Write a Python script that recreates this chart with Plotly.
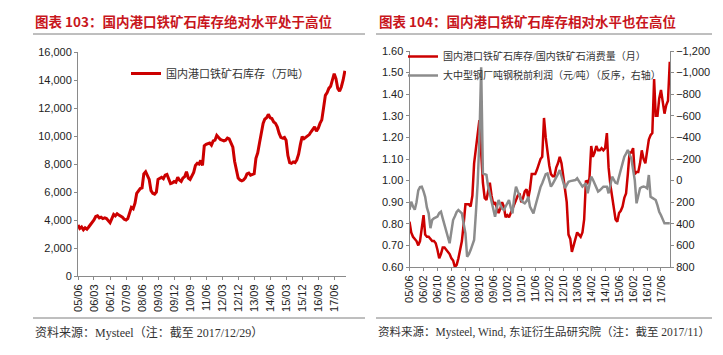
import pandas as pd
import plotly.graph_objects as go

# ---------------- data ----------------
# Left: port iron-ore inventory (10k tonnes), monthly from 2005-06 to 2017-12
stock = [3640, 3400, 3500, 3300, 3450, 3350, 3500, 3650, 3800, 4000,
         4250, 4300, 4150, 4200, 4100, 4150, 4100, 3950, 3800, 4100,
         4400, 4300, 4450, 4350, 4300, 4200, 4050, 4000, 4100, 4500,
         4900, 4800, 5200, 5900, 6100, 6250, 6300, 7300, 7450, 7200,
         6900, 6100, 5900, 5850, 6000, 6900, 7000, 7050, 6950, 7200,
         7250, 6900, 6600, 6650, 6750, 6700, 7050, 6850, 6750, 7000,
         7100, 7450, 7000, 6900, 7100, 7400, 7900, 8050, 8000, 8250,
         7900, 9300, 9400, 9450, 9500, 9350, 9650, 9700, 10050, 9900,
         9750, 9700, 9650, 9700, 9850, 9800, 9500, 9200, 8200, 7600,
         7000, 6850, 6800, 6850, 7000, 7300, 7350, 7200, 7250, 7300,
         8400, 8800, 9500, 10300, 10900, 11200, 11300, 11550, 11300, 11250,
         11000, 10900, 10650, 10200, 9900, 9850, 9900, 9700, 8600, 8100,
         8050, 8150, 8100, 8300, 8700, 9400, 9950, 9800, 9900, 10050,
         10100, 10300, 10500, 10650, 10350, 10550, 10900, 11150, 12000, 12900,
         13100, 13400, 13550, 14000, 14450, 14100, 13400, 13200, 13500, 14000,
         14650]
stock_start = "2005-06-01"
left_ticks = ["05/06", "06/03", "06/12", "07/09", "08/06", "09/03", "09/12",
              "10/09", "11/06", "12/03", "12/12", "13/09", "14/06", "15/03",
              "15/12", "16/09", "17/06"]

# Right: inventory / monthly consumption ratio, monthly 2005-06 to 2017-11
ratio = [0.81, 0.76, 0.74, 0.73, 0.72, 0.70, 0.72, 0.78, 0.84, 0.75,
         0.74, 0.74, 0.73, 0.72, 0.72, 0.71, 0.68, 0.64, 0.66, 0.69,
         0.69, 0.68, 0.67, 0.66, 0.64, 0.63, 0.60, 0.61, 0.64, 0.68,
         0.72, 0.80, 0.89, 0.89, 0.89, 0.88, 0.93, 1.08, 1.14, 1.20,
         1.28, 1.13, 0.99, 0.92, 0.91, 0.95, 0.99, 0.93, 0.89, 0.90,
         0.87, 0.85, 0.87, 0.90, 0.88, 0.83, 0.84, 0.83, 0.85, 0.87,
         0.89, 0.91, 0.93, 0.94, 0.90, 0.92, 0.95, 0.96, 0.92, 0.96,
         1.03, 1.03, 1.03, 1.05, 1.08, 1.10, 1.11, 1.29, 1.20, 1.13,
         1.07, 1.03, 1.02, 1.02, 1.06, 1.08, 1.11, 1.08, 1.03, 0.96,
         0.90, 0.75, 0.73, 0.67, 0.70, 0.73, 0.76, 0.75, 0.74, 0.76,
         0.82, 1.00, 0.99, 1.01, 1.16, 1.11, 1.13, 1.16, 1.14, 1.14,
         1.15, 1.14, 1.15, 1.22, 1.06, 0.98, 0.92, 0.86, 0.82, 0.81,
         0.85, 0.86, 0.88, 0.92, 0.94, 1.03, 1.13, 1.13, 1.15, 1.03,
         1.04, 1.04, 1.08, 1.14, 1.10, 1.08, 1.14, 1.19, 1.21, 1.22,
         1.47, 1.30, 1.30, 1.38, 1.42, 1.36, 1.31, 1.35, 1.37, 1.55]
# Pre-tax profit per tonne of steel (yuan/t), plotted on reversed right axis
profit = [270, 195, 240, 270, 200, 90, 60, 56, 100, 150,
          250, 303, 440, 365, 350, 340, 334, 300, 288, 350,
          411, 480, 519, 580, 470, 365, 330, 290, 272, 290,
          303, 400, 488, 705, 680, 643, 600, 550, 300, 25,
          -376, -1050, -67, -60, -52, 50, 118, 200, 280, 334,
          250, 180, 220, 260, 272, 240, 200, 180, 250, 303,
          150, 56, 100, 150, 180, 200, 210, 190, 149, 241,
          280, 303, 240, 180, 120, 60, 25, -20, -60, -67,
          0, 56, 30, 0, -21, -60, -98, -40, 20, 71,
          40, 10, 5, 0, -2, -5, -21, 0, 30, 56,
          40, 25, 118, 40, -36, -10, 25, 60, 102, 90,
          70, 56, 56, 56, 118, 40, -36, -10, 20, 25,
          -50, -98, -160, -221, -250, -283, -240, -206, -100, -5,
          210, 140, 71, 60, 56, 60, 71, -52, 149, 160,
          170, 180, 230, 288, 320, 360, 396, 396, 396, 396]
ratio_start = "2005-06-01"
right_ticks = ["05/06", "06/02", "06/10", "07/06", "08/02", "08/10", "09/06",
               "10/02", "10/10", "11/06", "12/02", "12/10", "13/06", "14/02",
               "14/10", "15/06", "16/02", "16/10", "17/06"]

title_left = "图表 103：国内港口铁矿石库存绝对水平处于高位"
title_right = "图表 104：国内港口铁矿石库存相对水平也在高位"
source_left = "资料来源：Mysteel（注：截至 2017/12/29）"
source_right = "资料来源：Mysteel, Wind, 东证衍生品研究院（注：截至 2017/11）"
name_stock = "国内港口铁矿石库存（万吨）"
name_ratio = "国内港口铁矿石库存/国内铁矿石消费量（月）"
name_profit = "大中型钢厂吨钢税前利润（元/吨）（反序，右轴）"

# ---------------- figure ----------------
W, H = 723, 355
RED = "#CC0000"
GRAY = "#8C8C8C"
AX = "#8A8A8A"
TXT = "#222222"
SANS = "Liberation Sans, Arial, sans-serif"
SERIF = "Liberation Serif, Noto Sans CJK SC, serif"
CJK = "Noto Sans CJK SC"


def px(x):
    return x / W


def py(y):
    return (H - y) / H


def tick_dates(labels):
    return [pd.Timestamp(f"20{l[:2]}-{l[3:]}-01") for l in labels]


x_stock = pd.date_range(stock_start, periods=len(stock), freq="MS")
x_ratio = pd.date_range(ratio_start, periods=len(ratio), freq="MS")

fig = go.Figure()
fig.add_trace(go.Scatter(x=x_stock, y=stock, mode="lines", name=name_stock,
                         line=dict(color=RED, width=3), xaxis="x", yaxis="y",
                         legend="legend"))
fig.add_trace(go.Scatter(x=x_ratio, y=profit, mode="lines", name=name_profit,
                         line=dict(color=GRAY, width=2.5), xaxis="x2", yaxis="y3",
                         legend="legend2", legendrank=2))
fig.add_trace(go.Scatter(x=x_ratio, y=ratio, mode="lines", name=name_ratio,
                         line=dict(color=RED, width=2.5), xaxis="x2", yaxis="y2",
                         legend="legend2", legendrank=1))

axis_common = dict(showline=True, linecolor=AX, linewidth=1, showgrid=False,
                   zeroline=False, ticks="outside", tickcolor=AX, ticklen=3,
                   tickfont=dict(family=SANS, size=11, color=TXT),
                   automargin=False)

fig.update_layout(
    width=W, height=H,
    margin=dict(l=0, r=0, t=0, b=0),
    paper_bgcolor="white", plot_bgcolor="white",
    xaxis=dict(domain=[px(78), px(346)], anchor="y", type="date",
               range=["2005-06-01", "2017-12-20"],
               tickvals=tick_dates(left_ticks), ticktext=left_ticks,
               tickangle=-90, **axis_common),
    yaxis=dict(domain=[py(276), py(52)], anchor="x", range=[0, 16000],
               tickvals=list(range(0, 16001, 2000)), tickformat=",d",
               **axis_common),
    xaxis2=dict(domain=[px(409.5), px(670)], anchor="y2", type="date",
                range=["2005-06-01", "2017-11-05"],
                tickvals=tick_dates(right_ticks), ticktext=right_ticks,
                tickangle=-90, **axis_common),
    yaxis2=dict(domain=[py(267), py(51)], anchor="x2", range=[0.6, 1.6],
                tickvals=[0.6 + 0.1 * i for i in range(11)], tickformat=".2f",
                **axis_common),
    yaxis3=dict(overlaying="y2", anchor="x2", side="right", range=[800, -1200],
                tickvals=list(range(-1200, 801, 200)), tickformat=",d",
                **axis_common),
    legend=dict(x=px(126), y=py(59), xanchor="left", yanchor="top",
                bgcolor="rgba(0,0,0,0)",
                font=dict(family=SERIF, size=11, color="#333333")),
    legend2=dict(x=px(403), y=py(42), xanchor="left", yanchor="top",
                 bgcolor="rgba(0,0,0,0)", tracegroupgap=0,
                 font=dict(family=SERIF, size=10, color="#333333")),
    showlegend=True,
)

# titles
for xx, txt in [(33, title_left), (377, title_right)]:
    fig.add_annotation(x=px(xx), y=py(21), xref="paper", yref="paper",
                       xanchor="left", yanchor="middle", showarrow=False,
                       text=txt, font=dict(family=CJK, size=13.5, color="#C8161D",
                                           weight="bold"))
# sources
for xx, txt, sz in [(33, source_left, 12), (376, source_right, 11.5)]:
    fig.add_annotation(x=px(xx), y=py(332), xref="paper", yref="paper",
                       xanchor="left", yanchor="middle", showarrow=False,
                       text=txt, font=dict(family=SERIF, size=sz, color="#333333"))
# rules
for x0, x1 in [(33, 365), (376, 712)]:
    for yy in (34, 318):
        fig.add_shape(type="line", xref="paper", yref="paper",
                      x0=px(x0), x1=px(x1), y0=py(yy), y1=py(yy),
                      line=dict(color="#7F7F7F", width=1))

fig.write_html("out.html", config={"displayModeBar": False},
               post_script="document.body.style.margin='0';")
